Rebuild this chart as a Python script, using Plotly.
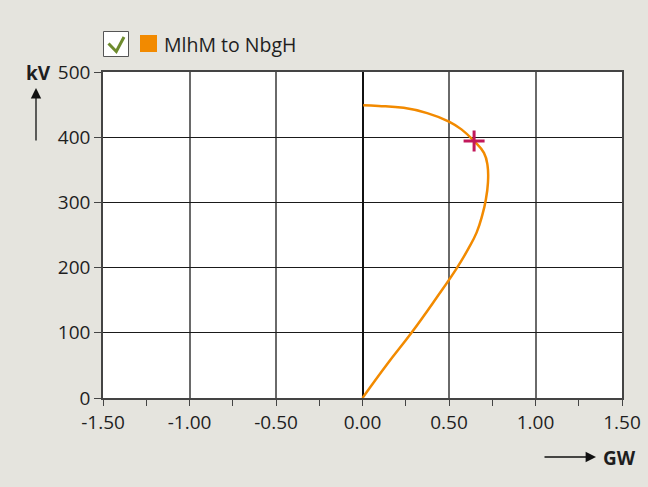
import plotly.graph_objects as go

# Data (P-V nose curve)
gw = [0.0, 0.140, 0.283, 0.426, 0.547, 0.612, 0.660, 0.692, 0.712, 0.725,
      0.723, 0.702, 0.645, 0.572, 0.500, 0.374, 0.238, 0.093, 0.004]
kv = [0, 51, 100, 153, 200, 229, 254, 280, 303, 330,
      356, 376, 394, 412, 424, 437, 445, 448, 449]
op_gw = [0.645]
op_kv = [394]
series_name = "MlhM to NbgH"
x_ticks = [-1.5, -1.0, -0.5, 0.0, 0.5, 1.0, 1.5]
y_ticks = [0, 100, 200, 300, 400, 500]

W, H = 648, 487
L, R, T, B = 103, 26, 72, 89
PW, PH = W - L - R, H - T - B

def px(x):
    return (x - L) / PW

def py(y):
    return (H - B - y) / PH

FONT = "Open Sans"
TXT = "#1e1e1e"

fig = go.Figure()
fig.add_trace(go.Scatter(x=gw, y=kv, mode="lines",
                         line=dict(color="#F28A00", width=2.5, shape="spline", smoothing=1.3),
                         showlegend=False, hoverinfo="skip"))
fig.add_trace(go.Scatter(x=op_gw, y=op_kv, mode="markers",
                         marker=dict(symbol="cross-thin", size=15, line=dict(color="#C2185B", width=3)),
                         showlegend=False))

fig.update_xaxes(range=[-1.5, 1.5], tickvals=x_ticks, ticktext=[f"{v:.2f}" for v in x_ticks],
                 showgrid=True, gridcolor="#6a6a6a", gridwidth=1.5,
                 zeroline=True, zerolinecolor="#111", zerolinewidth=2,
                 showline=True, linecolor="#444", linewidth=1.5, mirror=True,
                 ticks="outside", ticklen=6, tickcolor="#444", tickwidth=1.2,
                 minor=dict(tickvals=[-1.25, -0.75, -0.25, 0.25, 0.75, 1.25], ticks="outside", ticklen=6,
                            tickcolor="#444", showgrid=False),
                 tickfont=dict(family=FONT, size=19, color=TXT), fixedrange=True, automargin=False)
fig.update_yaxes(range=[0, 500], tickvals=y_ticks, showgrid=True, gridcolor="#1a1a1a", gridwidth=1.3,
                 zeroline=False, showline=True, linecolor="#444", linewidth=1.5, mirror=True,
                 ticks="outside", ticklen=7, tickcolor="#444", tickwidth=1.2,
                 tickfont=dict(family=FONT, size=19, color=TXT), fixedrange=True, automargin=False)

shapes = []
# checkbox
shapes.append(dict(type="rect", xref="paper", yref="paper", x0=px(103.5), x1=px(128.5), y0=py(56.5), y1=py(31.5),
                   line=dict(color="#555", width=1), fillcolor="white"))
shapes.append(dict(type="path", xref="paper", yref="paper",
                   path=f"M {px(108.5)},{py(43.5)} L {px(116.3)},{py(51.5)} L {px(124)},{py(37)}",
                   line=dict(color="#6E8B2E", width=3)))
# orange legend square
shapes.append(dict(type="rect", xref="paper", yref="paper", x0=px(140), x1=px(157), y0=py(52), y1=py(35),
                   line=dict(width=0), fillcolor="#F28A00"))

annotations = [
    dict(text=series_name, xref="paper", yref="paper", x=px(162), y=py(44), xanchor="left", yanchor="middle",
         showarrow=False, font=dict(family=FONT, size=19.5, color=TXT)),
    dict(text="<b>kV</b>", xref="paper", yref="paper", x=px(38), y=py(73), xanchor="center", yanchor="middle",
         showarrow=False, font=dict(family=FONT, size=19, color=TXT)),
    dict(text="<b>GW</b>", xref="paper", yref="paper", x=px(601), y=py(458), xanchor="left", yanchor="middle",
         showarrow=False, font=dict(family=FONT, size=19, color=TXT)),
    # up arrow
    dict(text="", xref="paper", yref="paper", x=px(36), y=py(88), ax=0, ay=54, showarrow=True,
         arrowhead=2, arrowsize=1.6, arrowwidth=1.3, arrowcolor="#111"),
    # right arrow
    dict(text="", xref="paper", yref="paper", x=px(596), y=py(457), ax=-53, ay=0, showarrow=True,
         arrowhead=2, arrowsize=1.6, arrowwidth=1.3, arrowcolor="#111"),
]

fig.update_layout(width=W, height=H, margin=dict(l=L, r=R, t=T, b=B),
                  paper_bgcolor="#E5E4DE", plot_bgcolor="white",
                  shapes=shapes, annotations=annotations, showlegend=False,
                  font=dict(family=FONT, color=TXT))

fig.write_html("out.html", config={"displayModeBar": False},
               post_script="document.body.style.margin='0';document.body.style.overflow='hidden';")
